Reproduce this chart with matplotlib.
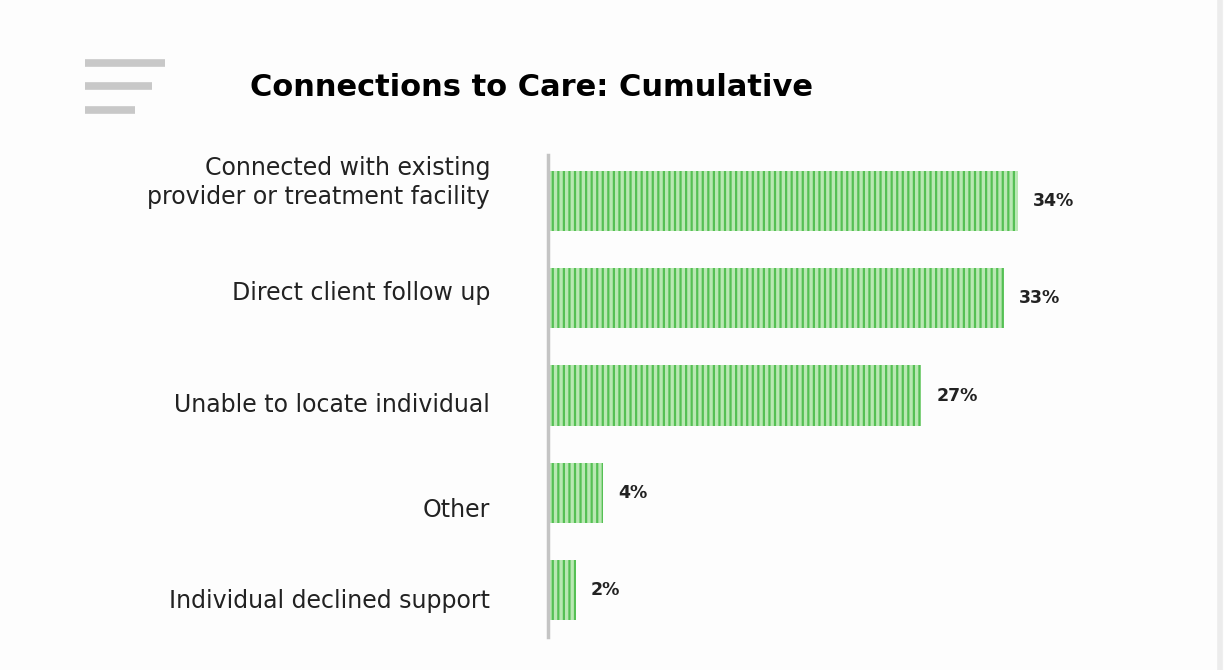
import matplotlib.pyplot as plt
import matplotlib.transforms as mtransforms
from matplotlib.lines import Line2D

categories = ["Connected with existing\nprovider or treatment facility",
              "Direct client follow up",
              "Unable to locate individual",
              "Other",
              "Individual declined support"]
values = [34, 33, 27, 4, 2]

plt.rcParams['font.family'] = ['DejaVu Sans']
plt.rcParams['hatch.linewidth'] = 1.6
plt.rcParams['hatch.color'] = '#55c054'

fig = plt.figure(figsize=(12.24, 6.7), dpi=100, facecolor='#fdfdfd')
ax = fig.add_axes([548/1224, 1-637/670, (1150-548)/1224, (637-155)/670])
ax.set_facecolor('none')

y = range(len(categories))
bars = ax.barh(y, values, height=0.62, color='#b9e8b3', edgecolor='#55c054',
               hatch='|||', linewidth=0)
ax.set_ylim(4.48, -0.47)
ax.set_xlim(0, 43.56)
ax.set_yticks([])
ax.set_xticks([])
for s in ['top', 'right', 'bottom']:
    ax.spines[s].set_visible(False)
ax.spines['left'].set_color('#c4c4c4')
ax.spines['left'].set_linewidth(2.5)

# category labels, nudged a bit like in the original slide
nudge = [13, 4, -7, -12, -8]
for i, lab in enumerate(categories):
    tr = ax.get_yaxis_transform() + mtransforms.ScaledTranslation(0, nudge[i] / 72, fig.dpi_scale_trans)
    ax.text(-0.096, i, lab, transform=tr, ha='right', va='center', fontsize=17,
            color='#222222', linespacing=1.25)

for i, v in enumerate(values):
    ax.annotate(f"{v}%", (v, i), xytext=(11, 0), textcoords='offset points',
                va='center', ha='left', fontsize=12.5, fontweight='bold', color='#222222')

fig.text(532/1224, 1-88/670, "Connections to Care: Cumulative", ha='center', va='center',
         fontsize=22, fontweight='bold', color='black')

# menu icon at top left
for x1, yy in [(165, 63), (152, 86), (135, 110)]:
    fig.add_artist(Line2D([85/1224, x1/1224], [1-yy/670, 1-yy/670], color='#c8c8c8',
                          linewidth=5.5, solid_capstyle='butt'))
fig.add_artist(Line2D([1220/1224, 1220/1224], [0, 1], color='#ececec', linewidth=4))

fig.savefig('out.png', dpi=100, facecolor=fig.get_facecolor())
